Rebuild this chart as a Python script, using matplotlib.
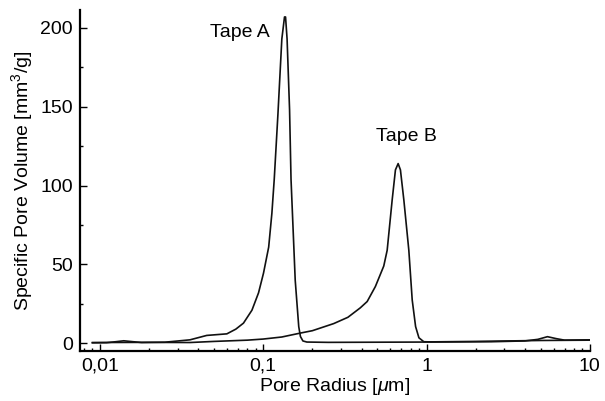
import matplotlib
matplotlib.use("Agg")
import matplotlib.pyplot as plt
from matplotlib.ticker import FixedLocator, FuncFormatter, LogLocator, MultipleLocator

plt.rcParams['font.family'] = ['Liberation Sans', 'DejaVu Sans']
plt.rcParams['mathtext.fontset'] = 'custom'
plt.rcParams['mathtext.rm'] = 'Liberation Sans'
plt.rcParams['mathtext.it'] = 'Liberation Sans:italic'

# pore size distributions (radius in um, volume in mm^3/g)
tape_a_r = [0.009, 0.011, 0.0125, 0.014, 0.016, 0.018, 0.025, 0.0356, 0.0451, 0.0599,
            0.068, 0.0757, 0.0853, 0.0936, 0.1004, 0.108, 0.113, 0.1168, 0.123, 0.130,
            0.135, 0.137, 0.140, 0.145, 0.148, 0.157, 0.165, 0.169, 0.175, 0.185,
            0.25, 0.5, 1.0, 2.5, 4.0, 4.8, 5.5, 6.2, 7.0, 10.0]
tape_a_v = [0.3, 0.4, 1.0, 1.6, 1.0, 0.5, 0.7, 2.2, 5.0, 6.0,
            9.0, 12.8, 21, 32, 44.5, 61, 82.5, 104, 145, 193,
            207, 207, 193, 148, 104, 40, 10.6, 4.3, 1.5, 0.8,
            0.6, 0.7, 0.8, 1.0, 1.5, 2.5, 4.2, 3.0, 2.0, 2.2]

tape_b_r = [0.009, 0.02, 0.0356, 0.05, 0.08, 0.1, 0.13, 0.169, 0.2, 0.27,
            0.33, 0.393, 0.433, 0.486, 0.547, 0.574, 0.616, 0.645, 0.670, 0.692,
            0.726, 0.779, 0.817, 0.857, 0.898, 0.962, 1.05, 2.0, 5.0, 10.0]
tape_b_v = [0.5, 0.6, 0.5, 1.2, 2.0, 2.7, 4.0, 6.5, 8.0, 12.5,
            16.5, 22.5, 26.5, 36, 49, 59, 91, 110, 114, 110,
            91, 59, 27.5, 10.6, 3.5, 1.0, 0.9, 1.2, 1.8, 2.0]

x_ticks = [0.01, 0.1, 1, 10]
x_tick_labels = ['0,01', '0,1', '1', '10']

fig = plt.figure(figsize=(6.05, 4.01), dpi=100)
ax = fig.add_axes([0.132, 0.125, 0.843, 0.85])

ax.plot(tape_a_r, tape_a_v, color='#111111', lw=1.2)
ax.plot(tape_b_r, tape_b_v, color='#111111', lw=1.2)

ax.set_xscale('log')
ax.set_xlim(0.00754, 10)
ax.set_ylim(-4.8, 211.4)

ax.xaxis.set_major_locator(FixedLocator(x_ticks))
ax.xaxis.set_major_formatter(FuncFormatter(lambda v, p: x_tick_labels[x_ticks.index(v)] if v in x_ticks else ''))
ax.xaxis.set_minor_locator(LogLocator(base=10, subs=range(2, 10)))
ax.yaxis.set_major_locator(MultipleLocator(50))
ax.yaxis.set_minor_locator(MultipleLocator(25))

for side in ('top', 'right'):
    ax.spines[side].set_visible(False)
for side in ('left', 'bottom'):
    ax.spines[side].set_linewidth(1.6)

ax.tick_params(which='both', direction='in', labelsize=14, pad=5, width=1.0)
ax.tick_params(which='major', length=5)
ax.tick_params(which='minor', length=2.5)

ax.set_xlabel('Pore Radius [$\\mu$m]', fontsize=14, labelpad=1)
ax.set_ylabel('Specific Pore Volume [mm$^3$/g]', fontsize=14, labelpad=4)

ax.text(0.0723, 197, 'Tape A', fontsize=14, ha='center', va='center')
ax.text(0.75, 131, 'Tape B', fontsize=14, ha='center', va='center')

fig.savefig('out.png', dpi=100)
